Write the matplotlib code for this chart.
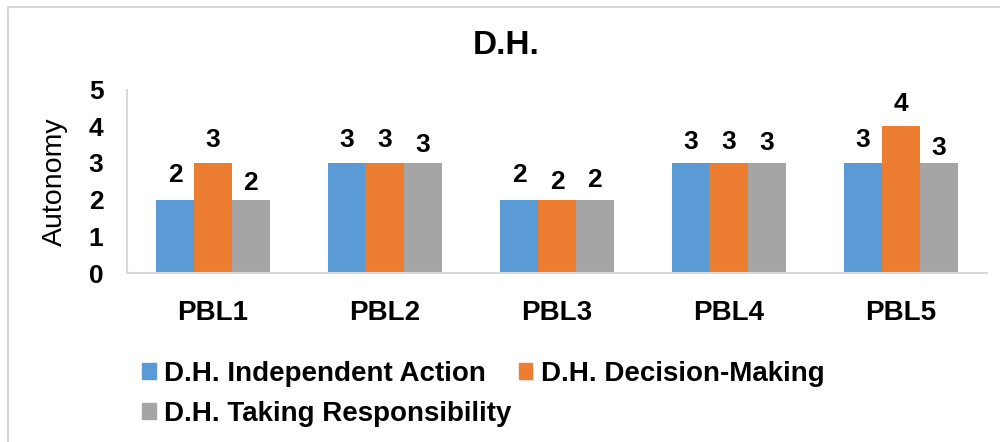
import matplotlib
matplotlib.use("Agg")
import matplotlib.pyplot as plt
from matplotlib.patches import Patch, Rectangle
import numpy as np

plt.rcParams['font.family'] = ['Liberation Sans', 'DejaVu Sans']

categories = ["PBL1", "PBL2", "PBL3", "PBL4", "PBL5"]
series_names = ["D.H. Independent Action", "D.H. Decision-Making", "D.H. Taking Responsibility"]
independent_action = [2, 3, 2, 3, 3]
decision_making = [3, 3, 2, 3, 4]
taking_responsibility = [2, 3, 2, 3, 3]
colors = ["#5B9BD5", "#ED7D31", "#A5A5A5"]

# label offsets above bar tops (pixels), as placed in the original
lab_off = [[25, 23, 17], [23, 23, 18], [25, 18, 20], [21, 21, 20], [23, 22, 15]]

fig = plt.figure(figsize=(10, 4.42), dpi=100)
fig.patches.append(Rectangle((0.008, -0.1), 1.1, 1.084, transform=fig.transFigure,
                             fill=False, edgecolor="#d9d9d9", lw=1.5))
ax = fig.add_axes([0.127, 0.382, 0.86, 0.4155])

x = np.arange(len(categories))
w = 0.22
allv = [independent_action, decision_making, taking_responsibility]
for i, vals in enumerate(allv):
    bars = ax.bar(x + (i - 1) * w, vals, w, color=colors[i], label=series_names[i])
    for j, b in enumerate(bars):
        ax.annotate(str(vals[j]), (b.get_x() + b.get_width() / 2, b.get_height()),
                    xytext=(0, lab_off[j][i]), textcoords="offset pixels",
                    ha="center", va="center", fontsize=19, fontweight="bold")

ax.set_xlim(-0.5, 4.5)
ax.set_ylim(0, 5)
ax.set_yticks(range(6))
ax.set_xticks(x)
ax.set_xticklabels(categories)
ax.tick_params(axis="y", length=0, pad=17, labelsize=19)
ax.tick_params(axis="x", length=0, pad=19, labelsize=20)
for lab in ax.get_xticklabels() + ax.get_yticklabels():
    lab.set_fontweight("bold")
for s in ["top", "right"]:
    ax.spines[s].set_visible(False)
for s in ["left", "bottom"]:
    ax.spines[s].set_color("#d9d9d9")
    ax.spines[s].set_linewidth(1.5)

fig.text(0.506, 0.898, "D.H.", ha="center", va="center", fontsize=24, fontweight="bold")
fig.text(0.055, 0.588, "Autonomy", rotation=90, ha="center", va="center", fontsize=20.5)

handles = [Patch(color=colors[0]), Patch(color=colors[2]), Patch(color=colors[1])]
labels = [series_names[0], series_names[2], series_names[1]]
fig.legend(handles, labels, ncol=2, loc="upper left",
           bbox_to_anchor=(0.142, 1 - 361 / 442), bbox_transform=fig.transFigure,
           frameon=False, handlelength=0.5, handleheight=0.5, handletextpad=0.3,
           columnspacing=0.25, labelspacing=0.5, borderaxespad=0, borderpad=0,
           prop={"size": 20, "weight": "bold"})

fig.savefig("out.png", dpi=100)
